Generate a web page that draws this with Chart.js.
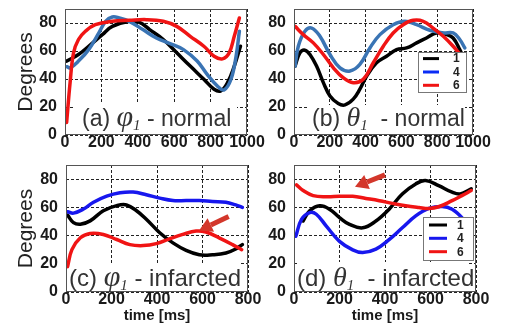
<!DOCTYPE html>
<html><head><meta charset="utf-8">
<script src="https://cdn.jsdelivr.net/npm/chart.js@4.4.1/dist/chart.umd.min.js"></script>
<style>
html,body{margin:0;padding:0;background:#fff;}
#wrap{position:relative;width:510px;height:325px;overflow:hidden;background:#fff;}
canvas{position:absolute;left:0;top:0;}
</style></head><body>
<div id="wrap">
<canvas id="ca" width="510" height="325"></canvas>
<canvas id="cb" width="510" height="325"></canvas>
<canvas id="cc" width="510" height="325"></canvas>
<canvas id="cd" width="510" height="325"></canvas>
</div>
<script>
// ---------- data (time in ms, angle in degrees) ----------
const seriesLabels = ['1', '4', '6'];
const yTicks = [0, 20, 40, 60, 80];
const xTicksNormal = [0, 200, 400, 600, 800, 1000];
const xTicksInfarct = [0, 200, 400, 600, 800];

// (a) phi1 - normal
const aBlackT = [10,74,130,205,260,353,409,465,540,614,688,763,819,856,893,930,964];
const aBlackV = [52.8,57.5,63.4,71.7,77.6,81.2,80.5,75.3,68.2,58.7,49.2,39.8,32.7,31.5,37.4,49.2,63.4];
const aBlueT  = [10,28,74,130,186,223,260,298,353,428,502,577,651,726,781,837,874,912,940,958];
const aBlueV  = [48.8,48,52.8,61,72.9,81.2,84.3,83.6,81.2,75.3,69.3,65.3,61,52.8,43.3,35,32.2,39.8,56.3,74.1];
const aRedT   = [9,28,47,74,112,167,260,353,447,540,614,688,763,819,865,902,930,958];
const aRedV   = [9,37.4,58.7,68.2,74.1,78.8,81.2,81.9,82.4,81.2,77.6,70.5,63.4,56.3,54.4,58.7,70.5,83.6];

// (b) theta1 - normal
const bBlackT = [6,33,61,89,126,164,201,247,285,331,368,406,461,517,573,629,685,740,796,852,889,926,954];
const bBlackV = [49.2,58.7,60.6,57.5,49.2,37.4,27.9,22.5,21.5,25.6,32.7,42.1,51.6,56.3,61,62.2,65.8,69.3,72.9,71.7,69.3,61,52.8];
const bBlueT  = [6,24,61,99,145,201,257,313,368,424,480,554,620,685,759,834,889,926,954];
const bBlueV  = [49.2,63.4,74.1,76.4,70.5,57.5,48,45.7,50.4,62.2,71.7,78.8,81.2,78.8,74.8,72.9,72.9,68.2,62.2];
const bRedT   = [6,52,108,164,220,275,331,387,443,499,554,610,666,722,777,834,889,945];
const bRedV   = [77.6,71.7,65.8,57.5,48,40.9,37.4,39.8,51.6,63.4,72.9,78.8,81.9,81.2,76.4,70.5,63.4,55.1];

// (c) phi1 - infarcted
const cBlackT = [7,33,63,106,164,223,266,310,353,412,470,528,586,644,703,746,775];
const cBlackV = [54.5,49.2,48,50.4,57.6,61.2,61.7,57.6,51.6,42,34.8,29.5,26.4,26.4,27.6,30.5,33.6];
const cBlueT  = [7,33,77,121,179,237,295,353,412,470,528,586,644,703,746,775];
const cBlueV  = [56.9,55.9,58.8,63.6,67.9,70.3,70.8,68.9,66.5,64.8,64.8,64.8,64.1,63.6,61.7,60];
const cRedT   = [7,26,63,106,164,223,281,339,397,455,513,572,615,673,732,772];
const cRedV   = [18,30,38.4,41.5,40.8,37.2,33.6,32.9,34.3,37.7,40.8,43.2,42.5,38.4,33.6,30];

// (d) theta1 - infarcted
const dBlackT = [40,69,113,156,200,244,302,360,418,476,535,578,636,695,731,779];
const dBlackV = [50.3,57.5,61.1,58.7,52.7,47.9,45.5,50.3,58.7,69.5,76.6,79,75.4,70.7,69.5,73.1];
const dBlueT  = [8,33,69,98,142,200,258,302,360,418,476,535,593,651,695,738,782];
const dBlueV  = [39.5,51.5,56.3,55.1,46.7,35.9,29.9,28,30.4,37.1,45.5,53.9,59.2,60.6,58.7,52.7,43.1];
const dRedT   = [11,40,84,142,200,258,316,375,433,491,549,593,636,695,738,779];
const dRedV   = [75.9,71.9,68.3,67.5,67.8,67.8,66.3,64.7,62.8,61.1,59.9,59.2,60.4,64.7,68.3,71.9];

// arrow annotations (data space: [tail, head])
const cArrow = [[715, 53.5], [585, 43.5]];
const dArrow = [[400, 83], [268, 74.5]];

// ---------- styles ----------
const SANS = '"Liberation Sans", Arial, sans-serif';
const SERIF = '"Liberation Serif", "Times New Roman", serif';
const BLACK = '#000000', RED = '#f01414';
const BLUE_N = '#3a74b4', BLUE_I = '#1717ee', BLUE_LEG = '#0a2cf5';

const decoPlugin = {
  id: 'deco',
  beforeDatasetsDraw(chart) {
    const d = chart.options.plugins.deco, a = chart.chartArea, ctx = chart.ctx;
    ctx.save();
    ctx.fillStyle = '#ffffff';
    ctx.fillRect(a.left + d.box.l, a.bottom - d.box.h, (a.right - d.box.r) - (a.left + d.box.l), d.box.h);
    ctx.restore();
  },
  afterDatasetsDraw(chart) {
    const d = chart.options.plugins.deco, a = chart.chartArea, ctx = chart.ctx;
    ctx.save();
    // frame
    ctx.strokeStyle = '#555';
    ctx.lineWidth = 1;
    ctx.strokeRect(Math.round(a.left) + 0.5, Math.round(a.top) + 0.5, Math.round(a.right - a.left) - 1, Math.round(a.bottom - a.top) - 1);
    // panel label
    let x = a.left + d.label.dx;
    const yb = a.bottom - d.label.dy;
    ctx.fillStyle = '#333';
    ctx.textBaseline = 'alphabetic';
    ctx.textAlign = 'left';
    d.label.parts.forEach(p => {
      ctx.font = p.f;
      ctx.fillText(p.t, x, yb + (p.dy || 0));
      x += ctx.measureText(p.t).width + (p.gap || 0);
    });
    // arrow
    if (d.arrow) {
      const sx = chart.scales.x, sy = chart.scales.y;
      const x0 = sx.getPixelForValue(d.arrow[0][0]), y0 = sy.getPixelForValue(d.arrow[0][1]);
      const x1 = sx.getPixelForValue(d.arrow[1][0]), y1 = sy.getPixelForValue(d.arrow[1][1]);
      const ang = Math.atan2(y1 - y0, x1 - x0);
      const hl = 13, hw = 7.5;
      const bx = x1 - hl * Math.cos(ang), by = y1 - hl * Math.sin(ang);
      ctx.strokeStyle = '#d3372b'; ctx.fillStyle = '#d3372b';
      ctx.lineWidth = 5; ctx.lineCap = 'butt';
      ctx.beginPath(); ctx.moveTo(x0, y0); ctx.lineTo(bx, by); ctx.stroke();
      ctx.beginPath();
      ctx.moveTo(x1, y1);
      ctx.lineTo(bx + hw * Math.sin(ang), by - hw * Math.cos(ang));
      ctx.lineTo(bx - hw * Math.sin(ang), by + hw * Math.cos(ang));
      ctx.closePath(); ctx.fill();
    }
    // legend
    if (d.legend) {
      const L = d.legend;
      const bx = a.right - L.right - L.w, by = a.top + L.top;
      ctx.fillStyle = '#fff';
      ctx.fillRect(bx, by, L.w, L.h);
      ctx.strokeStyle = '#777'; ctx.lineWidth = 1;
      ctx.strokeRect(Math.round(bx) + 0.5, Math.round(by) + 0.5, L.w, L.h);
      ctx.font = 'bold 12px ' + SANS;
      ctx.textBaseline = 'middle';
      chart.data.datasets.slice().sort((p, q) => p.legendIndex - q.legendIndex).forEach((ds, i) => {
        const ry = by + L.rows[i];
        ctx.strokeStyle = ds.legendColor; ctx.lineWidth = 3;
        ctx.beginPath(); ctx.moveTo(bx + L.s0, ry); ctx.lineTo(bx + L.s1, ry); ctx.stroke();
        ctx.fillStyle = '#222';
        ctx.fillText(ds.label, bx + L.tx, ry + 0.5);
      });
    }
    ctx.restore();
  }
};

const tickFont = {family: SANS, size: 16, weight: 'bold', lineHeight: 1};

function makePanel(id, p) {
  const mk = (label, t, v, color, legendColor, order, legendIndex) => ({
    label, data: t.map((tt, k) => ({x: tt, y: v[k]})),
    borderColor: color, legendColor, backgroundColor: color,
    borderWidth: 3.5, pointRadius: 0, tension: 0.4, fill: false,
    order, legendIndex, borderCapStyle: 'round', borderJoinStyle: 'round'
  });
  const datasets = [
    mk(seriesLabels[0], p.s[0][0], p.s[0][1], BLACK, BLACK, 3, 0),
    mk(seriesLabels[1], p.s[1][0], p.s[1][1], p.blue, p.blueLeg, 2, 1),
    mk(seriesLabels[2], p.s[2][0], p.s[2][1], RED, RED, 1, 2)
  ];
  new Chart(document.getElementById(id), {
    type: 'line',
    data: {datasets},
    options: {
      responsive: false, animation: false, devicePixelRatio: 1,
      layout: {padding: p.pad},
      plugins: {legend: {display: false}, tooltip: {enabled: false}, deco: p.deco},
      scales: {
        x: {
          type: 'linear', min: 0, max: p.xMax,
          ticks: {font: tickFont, color: '#1a1a1a', padding: p.xPad, maxRotation: 0, autoSkip: false,
                  callback: v => String(v)},
          afterBuildTicks(s) { s.ticks = p.xTicks.map(v => ({value: v})); },
          grid: {color: '#222', lineWidth: 1, drawTicks: false, borderDash: [3, 2]},
          border: {display: false, dash: [3, 2]},
          title: p.xTitle ? {display: true, text: p.xTitle, color: '#1a1a1a',
            font: {family: SANS, size: 15, weight: 'bold', lineHeight: 1}, padding: {top: 0, bottom: 1.5}} : {display: false},
          afterFit(s) { s.height = p.xH; s.paddingLeft = 0; s.paddingRight = 0; }
        },
        y: {
          min: 0, max: 90,
          ticks: {font: tickFont, color: '#1a1a1a', padding: 8, autoSkip: false,
                  callback: v => String(v)},
          afterBuildTicks(s) { s.ticks = yTicks.map(v => ({value: v})); },
          grid: {color: '#222', lineWidth: 1, drawTicks: false, borderDash: [3, 2]},
          border: {display: false, dash: [3, 2]},
          title: p.yTitle ? {display: true, text: p.yTitle, color: '#222',
            font: {family: SANS, size: 21, weight: 'normal', lineHeight: 1}, padding: {top: 15.5, bottom: 0}} : {display: false},
          afterFit(s) { s.width = p.yW; s.paddingTop = 0; s.paddingBottom = 0; }
        }
      }
    },
    plugins: [decoPlugin]
  });
}

const lblSans = s => s + 'px ' + SANS;
const phiFont = 'italic 30px ' + SERIF;
const thetaFont = 'italic 28px ' + SERIF;
const subFont = 'italic 15px ' + SERIF;

makePanel('ca', {
  s: [[aBlackT, aBlackV], [aBlueT, aBlueV], [aRedT, aRedV]],
  blue: BLUE_N, blueLeg: BLUE_LEG, xMax: 1000, xTicks: xTicksNormal,
  pad: {left: 0, top: 9, right: 263, bottom: 165}, yW: 65, xH: 25, xPad: 0,
  yTitle: 'Degrees',
  deco: {
    box: {l: 10, r: 10, h: 31},
    label: {dx: 17, dy: 9, parts: [
      {t: '(a) ', f: lblSans(23)}, {t: 'φ', f: phiFont}, {t: '1', f: subFont, dy: 4},
      {t: ' - normal', f: lblSans(23)}]}
  }
});
makePanel('cb', {
  s: [[bBlackT, bBlackV], [bBlueT, bBlueV], [bRedT, bRedV]],
  blue: BLUE_N, blueLeg: BLUE_LEG, xMax: 1000, xTicks: xTicksNormal,
  pad: {left: 250, top: 9, right: 37, bottom: 165}, yW: 44, xH: 25, xPad: 0,
  deco: {
    box: {l: 14, r: 8, h: 30},
    label: {dx: 18, dy: 9, parts: [
      {t: '(b) ', f: lblSans(23)}, {t: 'θ', f: thetaFont}, {t: '1', f: subFont, dy: 4},
      {t: '  - normal', f: lblSans(23)}]},
    legend: {right: 7, top: 43, w: 48, h: 40, rows: [6.6, 20, 33.3], s0: 5, s1: 21, tx: 35}
  }
});
makePanel('cc', {
  s: [[cBlackT, cBlackV], [cBlueT, cBlueV], [cRedT, cRedV]],
  blue: BLUE_I, blueLeg: BLUE_I, xMax: 800, xTicks: xTicksInfarct,
  pad: {left: 0, top: 165, right: 262, bottom: 0}, yW: 66, xH: 33, xPad: 0,
  yTitle: 'Degrees', xTitle: 'time [ms]',
  deco: {
    box: {l: 4, r: 9, h: 29},
    label: {dx: 3, dy: 6, parts: [
      {t: '(c) ', f: lblSans(24)}, {t: 'φ', f: phiFont}, {t: '1', f: subFont, dy: 4},
      {t: ' - infarcted', f: lblSans(24)}]},
    arrow: cArrow
  }
});
makePanel('cd', {
  s: [[dBlackT, dBlackV], [dBlueT, dBlueV], [dRedT, dRedV]],
  blue: BLUE_I, blueLeg: BLUE_I, xMax: 800, xTicks: xTicksInfarct,
  pad: {left: 250, top: 165, right: 34, bottom: 0}, yW: 44, xH: 33, xPad: 0,
  xTitle: 'time [ms]',
  deco: {
    box: {l: 4, r: 7, h: 30},
    label: {dx: 3, dy: 6, parts: [
      {t: '(d) ', f: lblSans(24)}, {t: 'θ', f: thetaFont}, {t: '1', f: subFont, dy: 4},
      {t: '  - infarcted', f: lblSans(24)}]},
    legend: {right: 3, top: 52, w: 50, h: 43, rows: [8, 21.3, 34.7], s0: 6, s1: 24, tx: 34},
    arrow: dArrow
  }
});
</script>
</body></html>
